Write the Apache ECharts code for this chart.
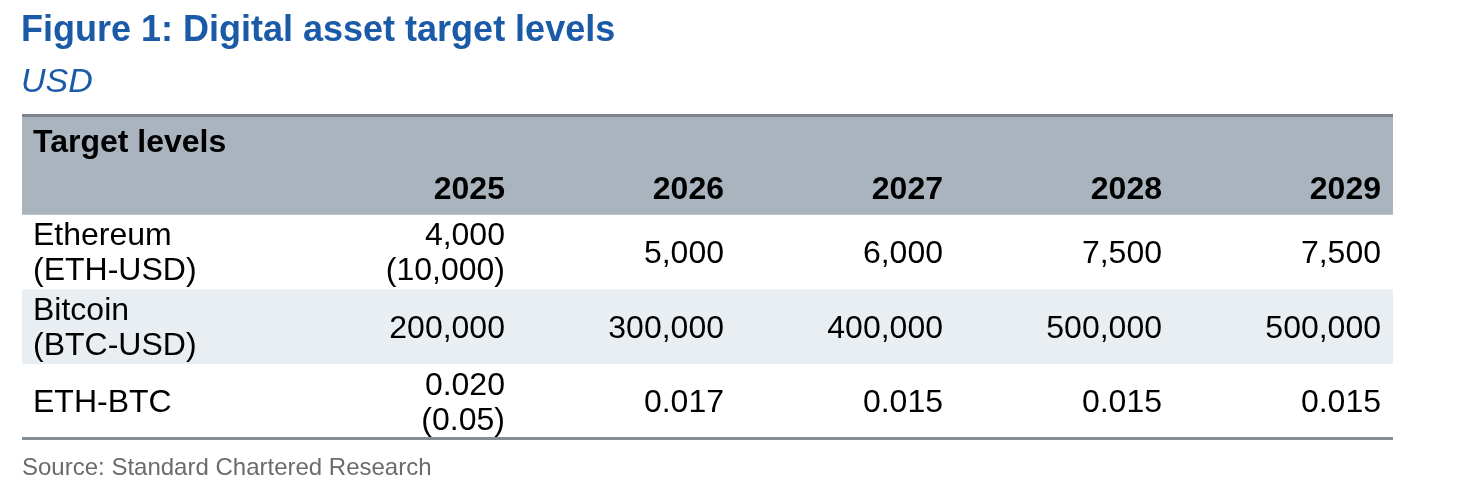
<!DOCTYPE html>
<html>
<head>
<meta charset="utf-8">
<script src="https://cdn.jsdelivr.net/npm/echarts@6/dist/echarts.min.js"></script>
<style>
  html, body { margin: 0; padding: 0; background: #fff; }
  #main { width: 1463px; height: 490px; }
</style>
</head>
<body>
<div id="main"></div>
<script>
// table data
const years = ['2025', '2026', '2027', '2028', '2029']
const rowNames = ['Ethereum\n(ETH-USD)', 'Bitcoin\n(BTC-USD)', 'ETH-BTC']
const ethUsd = [4000, 5000, 6000, 7500, 7500]
const ethUsdBull = [10000, null, null, null, null]   // bracketed value under 2025
const btcUsd = [200000, 300000, 400000, 500000, 500000]
const ethBtc = [0.020, 0.017, 0.015, 0.015, 0.015]
const ethBtcBull = [0.05, null, null, null, null]

const FONT = "'Liberation Sans', Arial, Helvetica, sans-serif"
const LABEL_W = 1.26   // width of the label column in column units
const HEAD_H = 1.333   // height of the header band in row units
const PAD = 12
const DY = 2           // small downward nudge of table text

const fmtUsd = v => v.toLocaleString('en-US')
const fmtRatio = (v, d) => v.toFixed(d)

// build cell texts from the arrays
const cells = []
years.forEach((y, c) => {
  let t = fmtUsd(ethUsd[c])
  if (ethUsdBull[c] != null) t += '\n(' + fmtUsd(ethUsdBull[c]) + ')'
  cells.push([c, 0, t])
  cells.push([c, 1, fmtUsd(btcUsd[c])])
  let r = fmtRatio(ethBtc[c], 3)
  if (ethBtcBull[c] != null) r += '\n(' + fmtRatio(ethBtcBull[c], 2) + ')'
  cells.push([c, 2, r])
})

const chart = echarts.init(document.getElementById('main'))

const textEl = (x, y, text, align, bold) => ({
  type: 'text',
  x: x, y: y + DY,
  style: {
    text: text,
    font: (bold ? 'bold ' : '') + '32px ' + FONT,
    fill: '#000',
    align: align, textAlign: align,
    verticalAlign: 'middle', textVerticalAlign: 'middle',
    lineHeight: 35
  }
})

const option = {
  animation: false,
  title: [
    {
      text: 'Figure 1: Digital asset target levels',
      left: 21, top: 13, padding: 0,
      textStyle: { color: '#1b5aa7', fontSize: 36, fontWeight: 'bold', fontFamily: FONT }
    },
    {
      text: 'USD',
      left: 21, top: 66, padding: 0,
      textStyle: { color: '#1b5aa7', fontSize: 34, fontWeight: 'normal', fontStyle: 'italic', fontFamily: FONT }
    },
    {
      text: 'Source: Standard Chartered Research',
      left: 22, top: 456, padding: 0,
      textStyle: { color: '#6b6b6b', fontSize: 24, fontWeight: 'normal', fontFamily: FONT }
    }
  ],
  grid: { left: 22, right: 70, top: 115, bottom: 51 },
  xAxis: { type: 'value', min: -LABEL_W, max: years.length, show: false },
  yAxis: { type: 'value', inverse: true, min: -HEAD_H, max: rowNames.length, show: false },
  series: [
    {
      // row bands
      type: 'custom',
      data: rowNames.map((n, i) => [-LABEL_W, i]),
      encode: { x: 0, y: 1 },
      renderItem: (params, api) => {
        const r = api.value(1)
        const p0 = api.coord([-LABEL_W, r])
        const p1 = api.coord([years.length, r + 1])
        return {
          type: 'rect',
          shape: { x: p0[0], y: p0[1], width: p1[0] - p0[0], height: p1[1] - p0[1] },
          style: { fill: r % 2 ? '#e9eef2' : '#ffffff' }
        }
      }
    },
    {
      // header band + borders
      type: 'custom',
      data: [[-LABEL_W, -HEAD_H]],
      encode: { x: 0, y: 1 },
      renderItem: (params, api) => {
        const p0 = api.coord([-LABEL_W, -HEAD_H])
        const p1 = api.coord([years.length, 0])
        const pb = api.coord([years.length, rowNames.length])
        return {
          type: 'group',
          children: [
            { type: 'rect', shape: { x: p0[0], y: p0[1], width: p1[0] - p0[0], height: p1[1] - p0[1] },
              style: { fill: '#aab4be' } },
            { type: 'rect', shape: { x: p0[0], y: p0[1] - 1, width: p1[0] - p0[0], height: 3 },
              style: { fill: '#7b848d' } },
            { type: 'rect', shape: { x: p0[0], y: pb[1] - 2, width: p1[0] - p0[0], height: 3 },
              style: { fill: '#858e96' } }
          ]
        }
      }
    },
    {
      // header texts
      type: 'custom',
      data: years.map((y, c) => [c, -HEAD_H * 0.27, y]),
      encode: { x: 0, y: 1 },
      renderItem: (params, api) => {
        const c = api.value(0)
        const pt = api.coord([c + 1, -HEAD_H * 0.27])
        const children = [textEl(pt[0] - PAD, pt[1], years[c], 'right', true)]
        if (c === 0) {
          const pl = api.coord([-LABEL_W, -HEAD_H * 0.74])
          children.push(textEl(pl[0] + 11, pl[1], 'Target levels', 'left', true))
        }
        return { type: 'group', children: children }
      }
    },
    {
      // row labels
      type: 'custom',
      data: rowNames.map((n, i) => [-LABEL_W, i + 0.5, n]),
      encode: { x: 0, y: 1 },
      renderItem: (params, api) => {
        const pt = api.coord([-LABEL_W, api.value(1)])
        return textEl(pt[0] + 11, pt[1], rowNames[params.dataIndex], 'left', false)
      }
    },
    {
      // value cells
      type: 'custom',
      data: cells,
      encode: { x: 0, y: 1 },
      renderItem: (params, api) => {
        const item = cells[params.dataIndex]
        const pt = api.coord([item[0] + 1, item[1] + 0.5])
        return textEl(pt[0] - PAD, pt[1], item[2], 'right', false)
      }
    }
  ]
}
chart.setOption(option)
</script>
</body>
</html>
